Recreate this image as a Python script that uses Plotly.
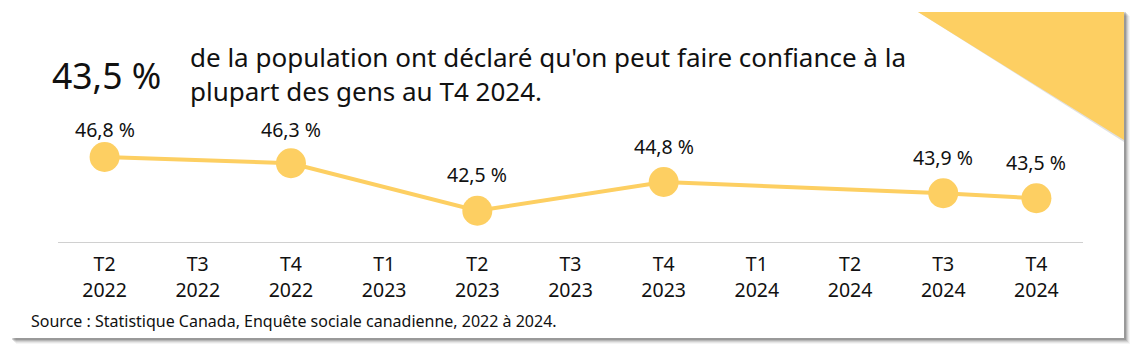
import plotly.graph_objects as go

categories = ["T2 2022", "T3 2022", "T4 2022", "T1 2023", "T2 2023", "T3 2023",
              "T4 2023", "T1 2024", "T2 2024", "T3 2024", "T4 2024"]
tick_labels = ["T2<br>2022", "T3<br>2022", "T4<br>2022", "T1<br>2023", "T2<br>2023", "T3<br>2023",
               "T4<br>2023", "T1<br>2024", "T2<br>2024", "T3<br>2024", "T4<br>2024"]
values = [46.8, None, 46.3, None, 42.5, None, 44.8, None, None, 43.9, 43.5]
value_labels = ["46,8 %", "", "46,3 %", "", "42,5 %", "", "44,8 %", "", "", "43,9 %", "43,5 %"]

headline = "43,5 %"
description = "de la population ont déclaré qu'on peut faire confiance à la<br>plupart des gens au T4 2024."
source = "Source : Statistique Canada, Enquête sociale canadienne, 2022 à 2024."

W, H = 1140, 353
L, R, T, B = 58, 57, 117, 111
PW = W - L - R
PH = H - T - B
Y0, Y1 = 40, 50

def px(x):
    return (x - L) / PW

def py(y):
    return (H - B - y) / PH

YELLOW = "#FDCF62"

fig = go.Figure()
fig.add_trace(go.Scatter(
    x=categories, y=values, mode="lines+markers",
    connectgaps=True,
    line=dict(color=YELLOW, width=4),
    marker=dict(color=YELLOW, size=30),
    hoverinfo="skip", cliponaxis=False,
))

shapes = []
# card shadow
for off, op in [(6, 0.04), (5, 0.06), (4, 0.09), (3, 0.12), (2, 0.16)]:
    shapes.append(dict(type="rect", xref="paper", yref="paper",
                       x0=px(12 + off - 2), x1=px(1124 + off), y0=py(338 + off), y1=py(12 + off - 2),
                       fillcolor=f"rgba(0,0,0,{op})", line=dict(width=0), layer="below"))
shapes.append(dict(type="rect", xref="paper", yref="paper",
                   x0=px(12), x1=px(1124), y0=py(338), y1=py(12),
                   fillcolor="white", line=dict(width=0), layer="below"))
# triangle shadow + triangle
shapes.append(dict(type="path", xref="paper", yref="paper",
                   path=f"M {px(918)},{py(12)} L {px(1124)},{py(12)} L {px(1124)},{py(142)} Z",
                   fillcolor="rgba(0,0,0,0.12)", line=dict(width=0), layer="below"))
shapes.append(dict(type="path", xref="paper", yref="paper",
                   path=f"M {px(918)},{py(12)} L {px(1124)},{py(12)} L {px(1124)},{py(140)} Z",
                   fillcolor=YELLOW, line=dict(width=0), layer="below"))

annotations = [
    dict(text=headline, xref="paper", yref="paper", x=px(50), y=py(75),
         xanchor="left", yanchor="middle", showarrow=False,
         font=dict(family="Noto Sans", size=35.5, color="#111")),
    dict(text=description, xref="paper", yref="paper", x=px(188), y=py(74),
         xanchor="left", yanchor="middle", showarrow=False, align="left",
         font=dict(family="Noto Sans", size=26, color="#111")),
    dict(text=source, xref="paper", yref="paper", x=px(29), y=py(321),
         xanchor="left", yanchor="middle", showarrow=False, align="left",
         font=dict(family="Noto Sans", size=16, color="#111")),
]

# value labels above markers, kept below a top limit
LABEL_OFFSET = 36
LABEL_TOP = 130
for cat, v, lab in zip(categories, values, value_labels):
    if v is None:
        continue
    pix = (H - B) - (v - Y0) / (Y1 - Y0) * PH
    shift = min(LABEL_OFFSET, pix - LABEL_TOP)
    annotations.append(dict(text=lab, x=cat, y=v, xref="x", yref="y",
                            yshift=shift, showarrow=False, xanchor="center", yanchor="middle",
                            font=dict(family="Noto Sans", size=19.5, color="#111")))

fig.update_layout(
    width=W, height=H,
    margin=dict(l=L, r=R, t=T, b=B),
    paper_bgcolor="white", plot_bgcolor="rgba(0,0,0,0)",
    showlegend=False,
    shapes=shapes, annotations=annotations,
    xaxis=dict(type="category", categoryorder="array", categoryarray=categories,
               tickmode="array", tickvals=categories, ticktext=tick_labels,
               showgrid=False, zeroline=False, showline=True, linecolor="#d0d0d0", linewidth=1,
               ticks="", ticklabelstandoff=5,
               tickfont=dict(family="Noto Sans", size=19.5, color="#111"),
               range=[-0.5, 10.5], fixedrange=True),
    yaxis=dict(visible=False, range=[Y0, Y1], fixedrange=True),
)

fig.write_html("out.html", config={"displayModeBar": False})
